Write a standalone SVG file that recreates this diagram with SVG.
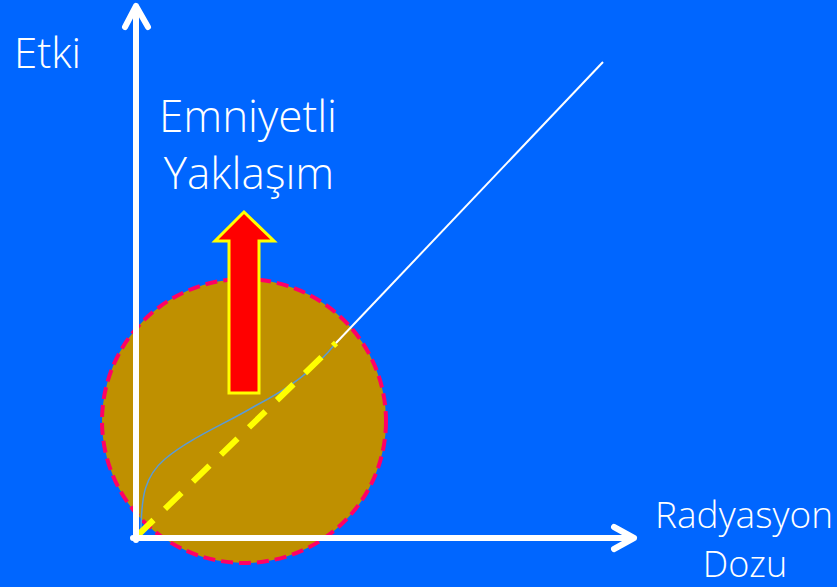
<svg xmlns="http://www.w3.org/2000/svg" width="837" height="587" viewBox="0 0 837 587">
<style>
.lbl{font-family:"Open Sans","Liberation Sans",sans-serif;font-weight:300;fill:#FFFFFF}
.ax{stroke:#FFFFFF;stroke-width:6;fill:none;stroke-linecap:round;stroke-linejoin:round}
</style>
<rect x="0" y="0" width="837" height="587" fill="#0066FF"/>
<g id="circle">
<circle cx="244" cy="421" r="142" fill="#BF9000" stroke="#FF0066" stroke-width="4" stroke-dasharray="12 6"/>
</g>
<g id="connectors">
<path d="M141,535 C141,495 145,476 165,459 C190,438 225,424 255,406 C290,388 314,370 336,343" fill="none" stroke="#5B9BD5" stroke-width="1.5"/>
<line x1="137" y1="536" x2="336" y2="343" stroke="#FFFF00" stroke-width="6" stroke-dasharray="23 16"/>
<line x1="336" y1="343" x2="603" y2="62" stroke="#FFFFFF" stroke-width="2"/>
</g>
<g id="axes">
<path class="ax" d="M136,540 L136,6 M125,27 L136,6 L148,27"/>
<path class="ax" d="M133,538 L634,538 M614,527 L634,538 L614,549"/>
</g>
<g id="arrow">
<polygon points="244,212 215,241 229,241 229,393 259,393 259,241 274,241" fill="#FF0000" stroke="#FFFF00" stroke-width="3" stroke-linejoin="miter"/>
</g>
<g id="labels">
<text class="lbl" x="14" y="68" font-size="42">Etki</text>
<text class="lbl" x="248" y="132" font-size="44" text-anchor="middle">Emniyetli</text>
<text class="lbl" x="249" y="189" font-size="44" text-anchor="middle">Yaklaşım</text>
<text class="lbl" x="744" y="528" font-size="37" text-anchor="middle">Radyasyon</text>
<text class="lbl" x="745" y="577" font-size="36" text-anchor="middle">Dozu</text>
</g>
</svg>
